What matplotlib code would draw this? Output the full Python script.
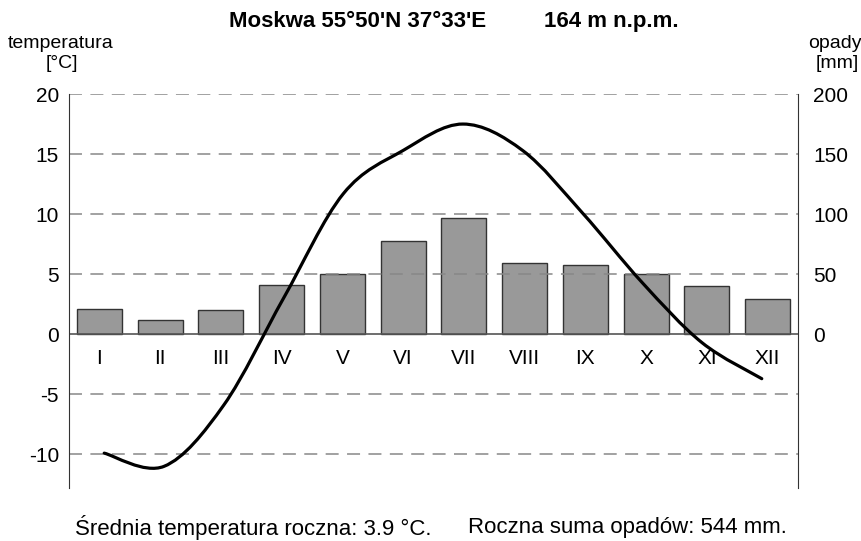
"""Klimatogram: Moskwa – temperatura (linia) i opady (słupki)."""
import matplotlib

matplotlib.use('Agg')
import matplotlib.pyplot as plt
import numpy as np
from matplotlib.path import Path
from matplotlib.patches import PathPatch

plt.rcParams['font.family'] = ['Liberation Sans', 'DejaVu Sans']
plt.rcParams['axes.unicode_minus'] = False

MONTHS = ['I', 'II', 'III', 'IV', 'V', 'VI', 'VII', 'VIII', 'IX', 'X', 'XI', 'XII']
TEMP_C = [-9.9, -11.0, -5.9, 3.0, 11.7, 15.3, 17.5, 15.3, 10.1, 4.3, -0.7, -3.7]
PRECIP_MM = [21, 12, 20, 41, 50, 78, 97, 59, 58, 50, 40, 29]
TEMP_TICKS = [-10, -5, 0, 5, 10, 15, 20]
PRECIP_TICKS = [0, 50, 100, 150, 200]

TEMP_MIN, TEMP_MAX = -12.8, 20


def smooth_path(xs, ys):
    """Krzywa Catmull-Rom zapisana jako ścieżka Béziera przez punkty danych."""
    pts = np.column_stack([xs, ys]).astype(float)
    ext = np.vstack([pts[0], pts, pts[-1]])
    verts = [pts[0]]
    codes = [Path.MOVETO]
    for i in range(len(pts) - 1):
        p0, p1, p2, p3 = ext[i], ext[i + 1], ext[i + 2], ext[i + 3]
        verts += [p1 + (p2 - p0) / 6, p2 - (p3 - p1) / 6, p2]
        codes += [Path.CURVE4] * 3
    return Path(verts, codes)


fig = plt.figure(figsize=(8.61, 5.41), dpi=100)
ax = fig.add_axes([0.0801, 0.098, 0.8467, 0.7282])
ax2 = ax.twinx()

x = np.arange(len(MONTHS))

# opady – słupki (oś prawa)
ax2.bar(x, PRECIP_MM, width=0.74, color='#999999', edgecolor='#333333',
        linewidth=1.0, zorder=2)
ax2.set_ylim(TEMP_MIN * 10, TEMP_MAX * 10)
ax2.set_yticks(PRECIP_TICKS)
ax2.tick_params(axis='y', length=0, labelsize=15, pad=10.8)

# temperatura na wierzchu
ax.set_zorder(ax2.get_zorder() + 1)
ax.patch.set_visible(False)
ax.set_xlim(-0.5, len(MONTHS) - 0.5)
ax.set_ylim(TEMP_MIN, TEMP_MAX)
ax.set_yticks(TEMP_TICKS)
ax.set_xticks([])
ax.tick_params(axis='y', length=0, labelsize=15, pad=7.2)

for t in TEMP_TICKS:
    if t == 0:
        ax.axhline(0, color='#555555', linewidth=1.2, zorder=1)
    else:
        ax.axhline(t, color='#888888', linewidth=1.1,
                   linestyle=(0, (8.5, 5.5)), zorder=1)

# linia lekko przesunięta względem środków miesięcy, jak w oryginale
x_line = 0.08 + x * 0.984
ax.add_patch(PathPatch(smooth_path(x_line, TEMP_C), facecolor='none',
                       edgecolor='black', linewidth=2.3, zorder=3,
                       capstyle='round', joinstyle='round'))

for xi, m in zip(x, MONTHS):
    ax.text(xi, -2.05, m, ha='center', va='center', fontsize=15)

for a in (ax, ax2):
    a.spines['top'].set_visible(False)
    a.spines['bottom'].set_visible(False)
ax2.spines['left'].set_visible(False)
ax.spines['right'].set_visible(False)
ax.spines['left'].set_color('#333333')
ax2.spines['right'].set_color('#333333')

# napisy
fig.text(358 / 861, 1 - 21.5 / 541, "Moskwa 55°50'N 37°33'E", ha='center',
         va='center', fontsize=16, fontweight='bold')
fig.text(611 / 861, 1 - 21.5 / 541, '164 m n.p.m.', ha='center', va='center',
         fontsize=16, fontweight='bold')
fig.text(61 / 861, 1 - 43 / 541, 'temperatura', ha='center', va='center',
         fontsize=14)
fig.text(62 / 861, 1 - 64 / 541, '[°C]', ha='center', va='center', fontsize=14)
fig.text(835 / 861, 1 - 43 / 541, 'opady', ha='center', va='center',
         fontsize=14)
fig.text(837 / 861, 1 - 64 / 541, '[mm]', ha='center', va='center',
         fontsize=14)
fig.text(75 / 861, 1 - 527 / 541, 'Średnia temperatura roczna: 3.9 °C.',
         ha='left', va='center', fontsize=16)
fig.text(468 / 861, 1 - 527 / 541, 'Roczna suma opadów: 544 mm.',
         ha='left', va='center', fontsize=16)

fig.savefig('out.png', dpi=100)
